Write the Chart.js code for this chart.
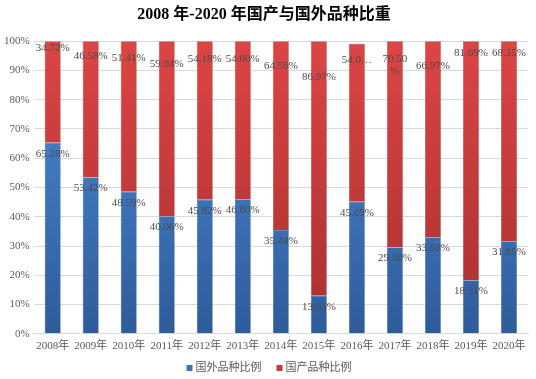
<!DOCTYPE html>
<html>
<head>
<meta charset="utf-8">
<script src="https://cdn.jsdelivr.net/npm/chart.js@4.4.0/dist/chart.umd.min.js"></script>
<style>
  html, body { margin: 0; padding: 0; background: #fff; }
  #wrap { width: 536px; height: 379px; }
</style>
</head>
<body>
<div id="wrap"><canvas id="ratioChart" width="536" height="379"></canvas></div>
<script>
const years = ['2008年', '2009年', '2010年', '2011年', '2012年', '2013年', '2014年',
               '2015年', '2016年', '2017年', '2018年', '2019年', '2020年'];
const foreignShare = [65.28, 53.42, 48.59, 40.06, 45.82, 46.00, 35.44, 13.03, 45.09, 29.50, 33.03, 18.31, 31.65];
const domesticShare = [34.72, 46.58, 51.41, 59.94, 54.18, 54.00, 64.56, 86.97, 54.00, 70.50, 66.97, 81.69, 68.35];
const yTicks = [0, 10, 20, 30, 40, 50, 60, 70, 80, 90, 100];

// label nudges below the top of each red segment (px), as placed in the original
const domesticLabelDy = [7, 15, 17, 23, 18, 18, 25, 36, 16, 18, 25, 12, 12];
const labelText = {
    1: { 8: ['54.0…'], 9: ['70.50', '%'] }
};

const serif = '"Liberation Serif", "Noto Sans CJK SC", serif';
const blue = '#3f75c1';
const red = '#c63c3c';

function vGrad(ctx, area, top, bottom) {
    const g = ctx.createLinearGradient(0, area.top, 0, area.bottom);
    g.addColorStop(0, top);
    g.addColorStop(1, bottom);
    return g;
}

const labelPlugin = {
    id: 'segLabels',
    afterDatasetsDraw(chart) {
        const ctx = chart.ctx;
        ctx.save();
        ctx.font = '11px ' + serif;
        ctx.fillStyle = '#4a4a4a';
        ctx.textAlign = 'center';
        ctx.textBaseline = 'middle';
        chart.data.datasets.forEach((ds, di) => {
            chart.getDatasetMeta(di).data.forEach((bar, i) => {
                const dy = di === 0 ? 11 : domesticLabelDy[i];
                const lines = (labelText[di] && labelText[di][i]) || [ds.data[i].toFixed(2) + '%'];
                lines.forEach((t, k) => ctx.fillText(t, bar.x, bar.y + dy + k * 12));
            });
        });
        ctx.restore();
    }
};

// simple bottom legend, drawn by hand so it sits close to the axis labels
const legendPlugin = {
    id: 'bottomLegend',
    afterDraw(chart) {
        const ctx = chart.ctx;
        ctx.save();
        ctx.font = '11px ' + serif;
        ctx.textBaseline = 'middle';
        const items = chart.data.datasets.map((ds, i) => ({ text: ds.label, color: i === 0 ? blue : red }));
        const box = 6, gap = 3, between = 15;
        const widths = items.map(it => box + gap + ctx.measureText(it.text).width);
        const total = widths.reduce((a, b) => a + b, 0) + between * (items.length - 1);
        let x = 269 - total / 2;
        const y = 368;
        items.forEach((it, i) => {
            ctx.fillStyle = it.color;
            ctx.fillRect(x, y - box / 2, box, box);
            ctx.fillStyle = '#595959';
            ctx.fillText(it.text, x + box + gap, y);
            x += widths[i] + between;
        });
        ctx.restore();
    }
};

new Chart(document.getElementById('ratioChart'), {
    type: 'bar',
    data: {
        labels: years,
        datasets: [
            {
                label: '国外品种比例',
                data: foreignShare,
                backgroundColor: (c) => c.chart.chartArea ? vGrad(c.chart.ctx, c.chart.chartArea, '#4f8bd9', '#2e5c9a') : blue,
                borderColor: '#2b5891',
                borderWidth: 0.5,
                barPercentage: 0.42,
                categoryPercentage: 1
            },
            {
                label: '国产品种比例',
                data: domesticShare,
                backgroundColor: (c) => c.chart.chartArea ? vGrad(c.chart.ctx, c.chart.chartArea, '#dc4545', '#a8302f') : red,
                borderColor: '#9a2c2b',
                borderWidth: 0.5,
                barPercentage: 0.42,
                categoryPercentage: 1
            }
        ]
    },
    options: {
        responsive: false,
        animation: false,
        layout: { padding: { left: 0, right: 8, top: 0, bottom: 20 } },
        plugins: {
            title: {
                display: true,
                text: '2008 年-2020 年国产与国外品种比重',
                color: '#000',
                font: { family: serif, size: 16, weight: 'bold' },
                padding: { top: 5, bottom: 17 }
            },
            legend: { display: false },
            tooltip: { enabled: false }
        },
        scales: {
            x: {
                stacked: true,
                grid: { display: false, drawTicks: false },
                border: { color: '#d9d9d9' },
                ticks: { color: '#595959', font: { family: serif, size: 11 }, maxRotation: 0, padding: 6 }
            },
            y: {
                stacked: true,
                min: 0,
                max: 100,
                afterBuildTicks: (axis) => { axis.ticks = yTicks.map(v => ({ value: v })); },
                grid: { color: '#d9d9d9', drawTicks: false },
                border: { display: false },
                ticks: {
                    color: '#595959',
                    font: { family: serif, size: 11 },
                    padding: 4,
                    callback: (v) => v + '%'
                }
            }
        }
    },
    plugins: [labelPlugin, legendPlugin]
});
</script>
</body>
</html>
